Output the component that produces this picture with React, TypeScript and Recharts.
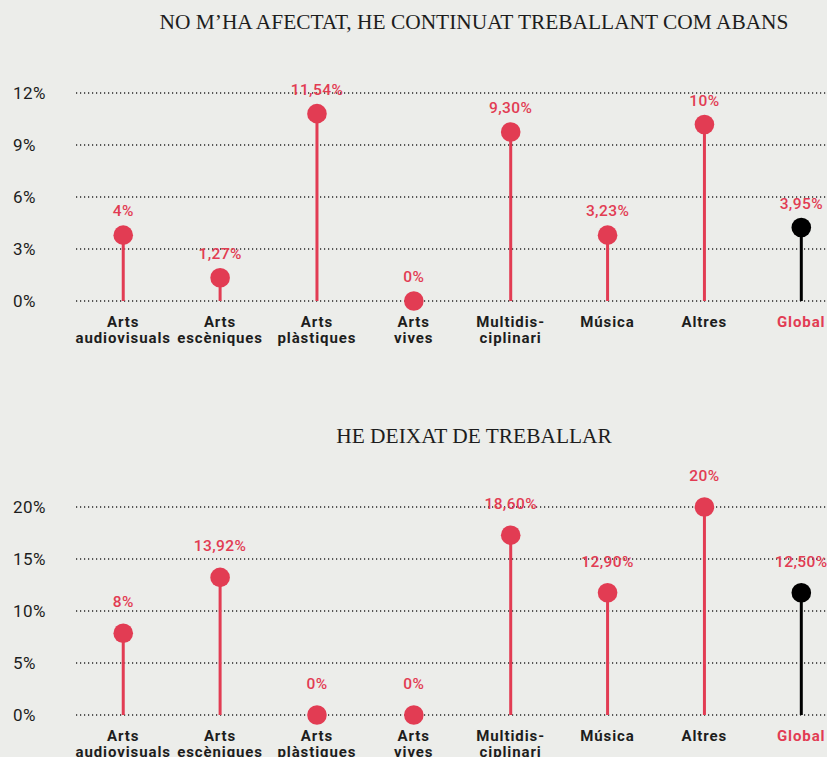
import React from "react";
import { ComposedChart, Bar, XAxis, YAxis, CartesianGrid, LabelList } from "recharts";

const categories = [
  "Arts\naudiovisuals",
  "Arts\nescèniques",
  "Arts\nplàstiques",
  "Arts\nvives",
  "Multidis-\nciplinari",
  "Música",
  "Altres",
  "Global",
];
const highlightCategory = "Global";

const topTitle = "NO M’HA AFECTAT, HE CONTINUAT TREBALLANT COM ABANS";
const topValues = [3.8, 1.34, 10.81, 0, 9.75, 3.8, 10.18, 4.24];
const topLabels = ["4%", "1,27%", "11,54%", "0%", "9,30%", "3,23%", "10%", "3,95%"];
const topTicks = [0, 3, 6, 9, 12];

const bottomTitle = "HE DEIXAT DE TREBALLAR";
const bottomValues = [7.86, 13.23, 0, 0, 17.29, 11.76, 20, 11.76];
const bottomLabels = ["8%", "13,92%", "0%", "0%", "18,60%", "12,90%", "20%", "12,50%"];
const bottomTicks = [0, 5, 10, 15, 20];

const RED = "#e23c53";
const BLACK = "#000000";
const TEXT = "#1d1d1d";
const BG = "#ecedea";
const SANS = "Roboto, 'Liberation Sans', sans-serif";
const SERIF = "'Liberation Serif', 'DejaVu Serif', serif";

const CHART_W = 827;
const CHART_H = 307;
const X_DOMAIN: [number, number] = [-0.487, 7.266];

function buildData(values: number[], labels: string[]) {
  return categories.map((c, i) => ({ idx: i, category: c, value: values[i], label: labels[i] }));
}

const Lollipop = (props: any) => {
  const { x, y, width, height, payload } = props;
  if (x == null || y == null) return null;
  const cx = x + width / 2;
  const color = payload && payload.category === highlightCategory ? BLACK : RED;
  return (
    <g>
      <line x1={cx} x2={cx} y1={y} y2={y + (height || 0)} stroke={color} strokeWidth={3} />
      <circle cx={cx} cy={y} r={9.8} fill={color} />
    </g>
  );
};

const makeValueLabel = (offset: number) => (props: any) => {
  const { x, y, width, value } = props;
  return (
    <text
      x={x + width / 2}
      y={y - offset}
      textAnchor="middle"
      fill={RED}
      fontSize={15.5}
      fontWeight={500}
      letterSpacing={0.4}
      fontFamily={SANS}
    >
      {value}
    </text>
  );
};

const CategoryTick = (props: any) => {
  const { x, y, payload } = props;
  const name = categories[payload.value] || "";
  const lines = name.split("\n");
  const color = name === highlightCategory ? RED : TEXT;
  return (
    <text
      x={x}
      y={y + 18}
      textAnchor="middle"
      fill={color}
      fontSize={15}
      fontWeight={700}
      letterSpacing={0.9}
      fontFamily={SANS}
    >
      {lines.map((l: string, i: number) => (
        <tspan key={i} x={x} dy={i === 0 ? 0 : 15.5}>
          {l}
        </tspan>
      ))}
    </text>
  );
};

const PercentTick = (props: any) => {
  const { y, payload } = props;
  return (
    <text x={13} y={y} dy={6} textAnchor="start" fill={TEXT} fontSize={17} letterSpacing={0.4} fontFamily={SANS}>
      {`${payload.value}%`}
    </text>
  );
};

function Lollipops({ values, labels, ticks, labelOffset }: { values: number[]; labels: string[]; ticks: number[]; labelOffset: number }) {
  const data = buildData(values, labels);
  return (
    <ComposedChart width={CHART_W} height={CHART_H} data={data} margin={{ top: 43, right: 0, bottom: 0, left: 0 }}>
      <CartesianGrid vertical={false} stroke="#262626" strokeWidth={1.3} strokeDasharray="1.2 2.8" />
      <XAxis
        type="number"
        dataKey="idx"
        domain={X_DOMAIN}
        ticks={categories.map((_, i) => i)}
        interval={0}
        allowDataOverflow
        axisLine={false}
        tickLine={false}
        height={56}
        tick={<CategoryTick />}
      />
      <YAxis
        type="number"
        domain={[ticks[0], ticks[ticks.length - 1]]}
        ticks={ticks}
        interval={0}
        axisLine={false}
        tickLine={false}
        width={76}
        tick={<PercentTick />}
      />
      <Bar dataKey="value" barSize={3} shape={<Lollipop />} isAnimationActive={false}>
        <LabelList dataKey="label" content={makeValueLabel(labelOffset)} />
      </Bar>
    </ComposedChart>
  );
}

const titleStyle: React.CSSProperties = {
  position: "absolute",
  left: 0,
  width: 948,
  textAlign: "center",
  fontFamily: SERIF,
  fontSize: 21.4,
  color: TEXT,
  lineHeight: "24px",
  whiteSpace: "nowrap",
};

export default function App() {
  return (
    <div style={{ position: "relative", width: 827, height: 757, background: BG, overflow: "hidden" }}>
      <style>{`html,body{margin:0;padding:0;overflow:hidden;background:${BG};}`}</style>
      <div style={{ ...titleStyle, top: 10 }}>{topTitle}</div>
      <div style={{ position: "absolute", left: 0, top: 50 }}>
        <Lollipops values={topValues} labels={topLabels} ticks={topTicks} labelOffset={19} />
      </div>
      <div style={{ ...titleStyle, top: 424 }}>{bottomTitle}</div>
      <div style={{ position: "absolute", left: 0, top: 464 }}>
        <Lollipops values={bottomValues} labels={bottomLabels} ticks={bottomTicks} labelOffset={26} />
      </div>
    </div>
  );
}
